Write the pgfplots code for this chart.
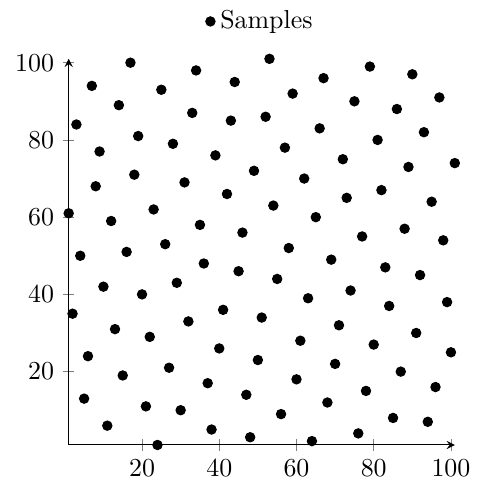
\documentclass[border=0pt]{standalone}
\usepackage{pgfplots}
\pgfplotsset{compat=1.18}
\begin{document}
\begin{tikzpicture}
\begin{axis}[
    axis lines=left,
    scale only axis,
    width=149pt, height=149pt,
    xmin=1, xmax=101, ymin=1, ymax=101,
    xtick={20,40,60,80,100},
    ytick={20,40,60,80,100},
    legend style={at={(0.5,1.04)}, anchor=south, draw=none},
    ]
\addplot[only marks, mark=*, mark size=1.8pt, black] coordinates {
(1,61) (2,35) (3,84) (4,50) (5,13) (6,24) (7,94) (8,68) (9,77) (10,42)
(11,6) (12,59) (13,31) (14,89) (15,19) (16,51) (17,100) (18,71) (19,81) (20,40)
(21,11) (22,29) (23,62) (24,1) (25,93) (26,53) (27,21) (28,79) (29,43) (30,10)
(31,69) (32,33) (33,87) (34,98) (35,58) (36,48) (37,17) (38,5) (39,76) (40,26)
(41,36) (42,66) (43,85) (44,95) (45,46) (46,56) (47,14) (48,3) (49,72) (50,23)
(51,34) (52,86) (53,101) (54,63) (55,44) (56,9) (57,78) (58,52) (59,92) (60,18)
(61,28) (62,70) (63,39) (64,2) (65,60) (66,83) (67,96) (68,12) (69,49) (70,22)
(71,32) (72,75) (73,65) (74,41) (75,90) (76,4) (77,55) (78,15) (79,99) (80,27)
(81,80) (82,67) (83,47) (84,37) (85,8) (86,88) (87,20) (88,57) (89,73) (90,97)
(91,30) (92,45) (93,82) (94,7) (95,64) (96,16) (97,91) (98,54) (99,38) (100,25)
(101,74)
};
\legend{Samples}
\end{axis}
\path ([xshift=-2.5pt]current bounding box.west) ([xshift=2pt]current bounding box.east);
\end{tikzpicture}
\end{document}
